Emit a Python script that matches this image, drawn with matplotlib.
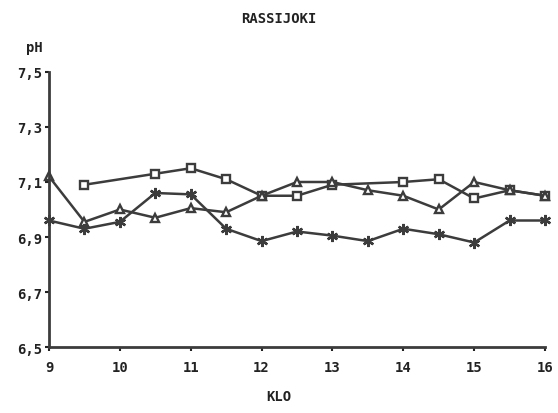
import numpy as np
import matplotlib
matplotlib.use('Agg')
from matplotlib import pyplot as plt

# kellonajat (KLO) ja pH-arvot kolmelta sarjalta
klo = [9, 9.5, 10, 10.5, 11, 11.5, 12, 12.5, 13, 13.5, 14, 14.5, 15, 15.5, 16]
ph_nelio = [np.nan, 7.09, np.nan, 7.13, 7.15, 7.11, 7.05, 7.05, 7.09, np.nan, 7.10, 7.11, 7.04, 7.07, 7.05]
ph_kolmio = [7.12, 6.955, 7.00, 6.97, 7.005, 6.99, 7.05, 7.10, 7.10, 7.07, 7.05, 7.00, 7.10, 7.07, 7.05]
ph_tahti = [6.96, 6.93, 6.955, 7.06, 7.055, 6.93, 6.885, 6.92, 6.905, 6.885, 6.93, 6.91, 6.88, 6.96, 6.96]

y_ticks = [6.5, 6.7, 6.9, 7.1, 7.3, 7.5]
x_ticks = [9, 10, 11, 12, 13, 14, 15, 16]

col = '#3c3c3c'
plt.rcParams['font.family'] = 'DejaVu Sans Mono'
plt.rcParams['font.weight'] = 'bold'

fig = plt.figure(figsize=(5.58, 4.14), dpi=100)
ax = fig.add_axes([0.0878, 0.1594, 0.889, 0.6643])

x = np.array(klo)
m = ~np.isnan(np.array(ph_nelio))
ax.plot(x[m], np.array(ph_nelio)[m], color=col, lw=1.8, marker='s', ms=6,
        mfc='white', mec=col, mew=1.7, clip_on=False)
ax.plot(x, ph_kolmio, color=col, lw=1.8, marker='^', ms=6,
        mfc='white', mec=col, mew=1.7, clip_on=False)
ax.plot(x, ph_tahti, color=col, lw=1.8, marker=(6, 2, 0), ms=8,
        mec=col, mew=1.7, clip_on=False)

ax.set_xlim(9, 16)
ax.set_ylim(6.5, 7.5)
ax.set_xticks(x_ticks)
ax.set_yticks(y_ticks)
ax.set_yticklabels(['{:.1f}'.format(v).replace('.', ',') for v in y_ticks])
ax.tick_params(axis='both', labelsize=10, colors='#222222', length=3, width=1.5)
ax.tick_params(axis='x', pad=6)
ax.tick_params(axis='y', pad=2)

for s in ['top', 'right']:
    ax.spines[s].set_visible(False)
for s in ['left', 'bottom']:
    ax.spines[s].set_linewidth(2)
    ax.spines[s].set_color(col)

fig.text(0.5, 0.955, 'RASSIJOKI', ha='center', va='center', fontsize=10, color='#222222')
fig.text(0.062, 0.885, 'pH', ha='center', va='center', fontsize=10, color='#222222')
fig.text(0.5, 0.04, 'KLO', ha='center', va='center', fontsize=10, color='#222222')

plt.savefig('out.png', dpi=100)
